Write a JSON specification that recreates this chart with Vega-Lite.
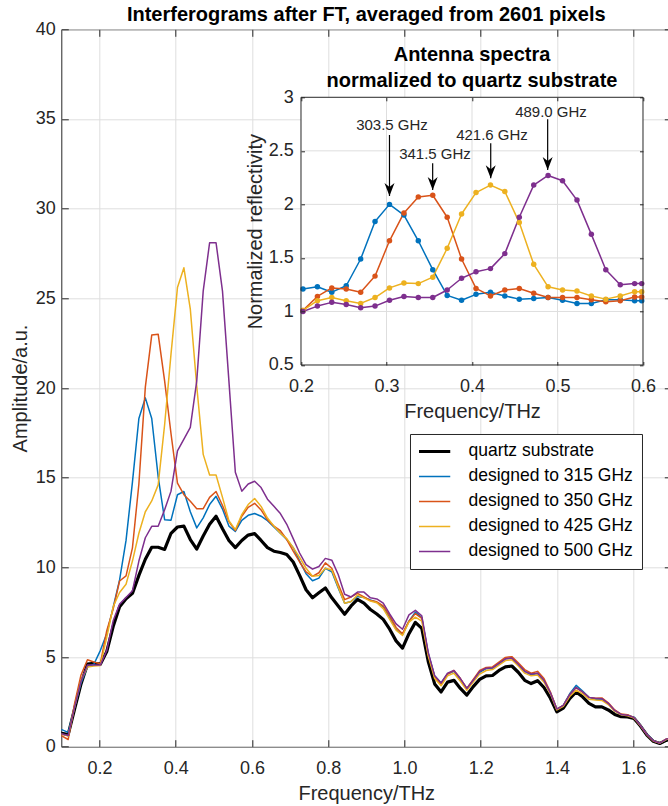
{
  "$schema": "https://vega.github.io/schema/vega-lite/v6.json",
  "autosize": {"type": "none"},
  "padding": {"left": 61.3, "top": 29.3, "right": 0, "bottom": 59.3},
  "width": 610,
  "height": 717.4,
  "background": "white",
  "config": {
    "font": "Liberation Sans",
    "view": {"stroke": "#262626", "strokeWidth": 1},
    "axis": {"labelFont": "Liberation Sans", "titleFont": "Liberation Sans", "labelFontSize": 18, "titleFontSize": 20, "titleFontWeight": "normal", "labelColor": "#262626", "titleColor": "#262626", "tickColor": "#262626", "tickWidth": 1, "gridColor": "#dedede", "gridWidth": 1, "domain": false, "labelFlush": false, "labelOverlap": false}
  },
  "datasets": {
    "main": [
      {"f":0.0842,"q":0.85,"b":1.0,"o":0.75,"y":0.8,"p":0.85},
      {"f":0.1011,"q":0.75,"b":0.95,"o":0.6,"y":0.7,"p":0.72},
      {"f":0.1180,"q":0.67,"b":0.8,"o":0.4,"y":0.6,"p":0.62},
      {"f":0.1348,"q":2.1,"b":2.2,"o":2.4,"y":2.2,"p":2.2},
      {"f":0.1517,"q":3.5,"b":3.55,"o":4.0,"y":3.7,"p":3.65},
      {"f":0.1686,"q":4.6,"b":4.45,"o":4.85,"y":4.45,"p":4.55},
      {"f":0.1854,"q":4.65,"b":4.6,"o":4.72,"y":4.5,"p":4.55},
      {"f":0.2023,"q":4.6,"b":5.36,"o":4.62,"y":4.53,"p":4.55},
      {"f":0.2192,"q":5.3,"b":6.29,"o":6.47,"y":6.1,"p":5.36},
      {"f":0.2360,"q":6.7,"b":7.77,"o":7.67,"y":7.8,"p":7.02},
      {"f":0.2529,"q":7.8,"b":9.3,"o":9.24,"y":8.6,"p":7.95},
      {"f":0.2698,"q":8.25,"b":11.5,"o":9.52,"y":9.06,"p":8.32},
      {"f":0.2866,"q":8.55,"b":14.75,"o":11.09,"y":10.35,"p":8.69},
      {"f":0.3035,"q":9.55,"b":18.3,"o":14.65,"y":11.9,"p":10.35},
      {"f":0.3204,"q":10.45,"b":19.45,"o":20.05,"y":13.1,"p":11.65},
      {"f":0.3372,"q":11.12,"b":18.3,"o":22.95,"y":13.7,"p":12.29},
      {"f":0.3541,"q":11.12,"b":15.05,"o":23.0,"y":14.6,"p":12.29},
      {"f":0.3710,"q":11.0,"b":12.66,"o":20.4,"y":17.95,"p":13.21},
      {"f":0.3878,"q":11.9,"b":12.63,"o":17.45,"y":21.9,"p":14.25},
      {"f":0.4047,"q":12.25,"b":14.05,"o":14.7,"y":25.6,"p":16.5},
      {"f":0.4216,"q":12.3,"b":14.23,"o":14.05,"y":26.7,"p":17.15},
      {"f":0.4384,"q":11.55,"b":13.1,"o":13.68,"y":24.4,"p":17.8},
      {"f":0.4553,"q":11.02,"b":12.2,"o":13.27,"y":20.1,"p":20.4},
      {"f":0.4722,"q":11.75,"b":12.76,"o":13.27,"y":16.3,"p":25.4},
      {"f":0.4890,"q":12.4,"b":13.5,"o":13.9,"y":15.15,"p":28.1},
      {"f":0.5059,"q":12.85,"b":13.96,"o":14.23,"y":15.15,"p":28.1},
      {"f":0.5228,"q":12.15,"b":13.25,"o":13.45,"y":13.9,"p":25.4},
      {"f":0.5396,"q":11.5,"b":12.3,"o":12.55,"y":12.6,"p":20.4},
      {"f":0.5565,"q":11.1,"b":12.0,"o":12.05,"y":12.1,"p":15.3},
      {"f":0.5734,"q":11.5,"b":12.62,"o":12.85,"y":12.94,"p":14.25},
      {"f":0.5902,"q":11.8,"b":12.9,"o":13.35,"y":13.5,"p":14.65},
      {"f":0.6071,"q":11.88,"b":13.0,"o":13.57,"y":13.84,"p":14.8},
      {"f":0.6240,"q":11.5,"b":12.85,"o":13.2,"y":13.4,"p":14.45},
      {"f":0.6408,"q":11.1,"b":12.6,"o":12.65,"y":12.75,"p":13.8},
      {"f":0.6577,"q":10.9,"b":12.25,"o":12.3,"y":12.3,"p":13.4},
      {"f":0.6746,"q":10.83,"b":11.9,"o":12.05,"y":11.9,"p":13.0},
      {"f":0.6914,"q":10.72,"b":11.55,"o":11.55,"y":11.6,"p":12.4},
      {"f":0.7083,"q":10.3,"b":11.1,"o":10.9,"y":11.1,"p":11.6},
      {"f":0.7251,"q":9.55,"b":10.35,"o":10.3,"y":10.55,"p":10.8},
      {"f":0.7420,"q":8.75,"b":9.65,"o":9.75,"y":9.95,"p":10.15},
      {"f":0.7589,"q":8.3,"b":9.25,"o":9.5,"y":9.5,"p":9.9},
      {"f":0.7757,"q":8.58,"b":9.4,"o":9.7,"y":9.55,"p":10.05},
      {"f":0.7926,"q":8.85,"b":9.95,"o":10.25,"y":9.95,"p":10.5},
      {"f":0.8095,"q":8.3,"b":9.75,"o":9.95,"y":9.85,"p":10.4},
      {"f":0.8263,"q":7.85,"b":8.85,"o":9.05,"y":8.9,"p":9.6},
      {"f":0.8432,"q":7.38,"b":8.0,"o":8.2,"y":8.0,"p":8.5},
      {"f":0.8601,"q":7.85,"b":8.1,"o":8.35,"y":8.1,"p":8.35},
      {"f":0.8769,"q":8.22,"b":8.38,"o":8.55,"y":8.45,"p":8.62},
      {"f":0.8938,"q":8.0,"b":8.32,"o":8.35,"y":8.3,"p":8.62},
      {"f":0.9107,"q":7.65,"b":8.18,"o":8.15,"y":8.12,"p":8.3},
      {"f":0.9275,"q":7.4,"b":8.05,"o":8.08,"y":8.03,"p":8.24},
      {"f":0.9444,"q":7.1,"b":7.8,"o":7.85,"y":7.7,"p":8.0},
      {"f":0.9613,"q":6.55,"b":7.2,"o":7.3,"y":7.1,"p":7.4},
      {"f":0.9781,"q":5.9,"b":6.55,"o":6.65,"y":6.5,"p":6.85},
      {"f":0.9950,"q":5.5,"b":6.25,"o":6.3,"y":6.2,"p":6.55},
      {"f":1.0119,"q":6.3,"b":7.0,"o":7.0,"y":6.95,"p":7.35},
      {"f":1.0287,"q":6.93,"b":7.5,"o":7.42,"y":7.22,"p":7.6},
      {"f":1.0456,"q":6.6,"b":7.2,"o":7.15,"y":7.0,"p":7.3},
      {"f":1.0625,"q":4.75,"b":5.2,"o":5.15,"y":5.05,"p":5.25},
      {"f":1.0793,"q":3.5,"b":3.95,"o":3.9,"y":3.8,"p":3.95},
      {"f":1.0962,"q":3.05,"b":3.55,"o":3.5,"y":3.4,"p":3.55},
      {"f":1.1131,"q":3.6,"b":4.05,"o":4.05,"y":3.95,"p":4.1},
      {"f":1.1299,"q":3.7,"b":4.2,"o":4.25,"y":4.1,"p":4.25},
      {"f":1.1468,"q":3.25,"b":3.75,"o":3.8,"y":3.65,"p":3.8},
      {"f":1.1637,"q":2.88,"b":3.25,"o":3.25,"y":3.15,"p":3.25},
      {"f":1.1805,"q":3.35,"b":3.7,"o":3.75,"y":3.6,"p":3.7},
      {"f":1.1974,"q":3.75,"b":4.15,"o":4.25,"y":4.05,"p":4.2},
      {"f":1.2143,"q":3.95,"b":4.35,"o":4.42,"y":4.25,"p":4.38},
      {"f":1.2311,"q":3.97,"b":4.38,"o":4.45,"y":4.3,"p":4.4},
      {"f":1.2480,"q":4.25,"b":4.65,"o":4.72,"y":4.55,"p":4.65},
      {"f":1.2649,"q":4.45,"b":4.9,"o":4.98,"y":4.8,"p":4.9},
      {"f":1.2817,"q":4.5,"b":4.95,"o":5.02,"y":4.85,"p":4.95},
      {"f":1.2986,"q":4.15,"b":4.6,"o":4.68,"y":4.5,"p":4.6},
      {"f":1.3155,"q":3.7,"b":4.2,"o":4.3,"y":4.1,"p":4.2},
      {"f":1.3323,"q":3.52,"b":4.0,"o":4.1,"y":3.95,"p":4.05},
      {"f":1.3492,"q":3.68,"b":4.1,"o":4.2,"y":4.0,"p":4.1},
      {"f":1.3661,"q":3.3,"b":3.7,"o":3.8,"y":3.6,"p":3.7},
      {"f":1.3829,"q":2.7,"b":3.0,"o":3.05,"y":2.95,"p":3.0},
      {"f":1.3998,"q":1.94,"b":2.1,"o":2.1,"y":2.05,"p":2.1},
      {"f":1.4167,"q":2.15,"b":2.3,"o":2.3,"y":2.25,"p":2.3},
      {"f":1.4335,"q":2.68,"b":2.95,"o":2.9,"y":2.8,"p":2.9},
      {"f":1.4504,"q":3.05,"b":3.42,"o":3.3,"y":3.15,"p":3.3},
      {"f":1.4673,"q":2.78,"b":3.1,"o":3.05,"y":2.95,"p":3.05},
      {"f":1.4841,"q":2.42,"b":2.75,"o":2.75,"y":2.65,"p":2.75},
      {"f":1.5010,"q":2.22,"b":2.65,"o":2.7,"y":2.6,"p":2.7},
      {"f":1.5179,"q":2.22,"b":2.62,"o":2.72,"y":2.58,"p":2.68},
      {"f":1.5347,"q":2.05,"b":2.4,"o":2.45,"y":2.35,"p":2.42},
      {"f":1.5516,"q":1.8,"b":2.0,"o":2.05,"y":1.98,"p":2.02},
      {"f":1.5685,"q":1.67,"b":1.8,"o":1.82,"y":1.78,"p":1.8},
      {"f":1.5853,"q":1.66,"b":1.75,"o":1.78,"y":1.72,"p":1.76},
      {"f":1.6022,"q":1.58,"b":1.65,"o":1.62,"y":1.6,"p":1.62},
      {"f":1.6191,"q":1.15,"b":1.2,"o":1.18,"y":1.16,"p":1.18},
      {"f":1.6359,"q":0.65,"b":0.7,"o":0.68,"y":0.67,"p":0.68},
      {"f":1.6528,"q":0.3,"b":0.35,"o":0.33,"y":0.32,"p":0.33},
      {"f":1.6697,"q":0.18,"b":0.2,"o":0.2,"y":0.2,"p":0.2},
      {"f":1.6865,"q":0.35,"b":0.4,"o":0.42,"y":0.4,"p":0.42},
      {"f":1.7034,"q":0.5,"b":0.55,"o":0.55,"y":0.55,"p":0.55}
    ],
    "inset": [
      {"f":0.2023,"b":1.21,"o":1.01,"y":1.01,"p":1.0},
      {"f":0.2192,"b":1.23,"o":1.14,"y":1.10,"p":1.05},
      {"f":0.2360,"b":1.18,"o":1.22,"y":1.13,"p":1.085},
      {"f":0.2529,"b":1.24,"o":1.21,"y":1.10,"p":1.065},
      {"f":0.2698,"b":1.49,"o":1.18,"y":1.075,"p":1.035},
      {"f":0.2866,"b":1.84,"o":1.33,"y":1.13,"p":1.05},
      {"f":0.3035,"b":2.00,"o":1.66,"y":1.22,"p":1.105},
      {"f":0.3204,"b":1.90,"o":1.92,"y":1.265,"p":1.14},
      {"f":0.3372,"b":1.66,"o":2.07,"y":1.26,"p":1.13},
      {"f":0.3541,"b":1.39,"o":2.085,"y":1.32,"p":1.13},
      {"f":0.3710,"b":1.15,"o":1.88,"y":1.59,"p":1.20},
      {"f":0.3878,"b":1.105,"o":1.49,"y":1.91,"p":1.31},
      {"f":0.4047,"b":1.16,"o":1.215,"y":2.11,"p":1.37},
      {"f":0.4216,"b":1.18,"o":1.145,"y":2.18,"p":1.40},
      {"f":0.4384,"b":1.145,"o":1.20,"y":2.12,"p":1.54},
      {"f":0.4553,"b":1.115,"o":1.215,"y":1.83,"p":1.88},
      {"f":0.4722,"b":1.12,"o":1.17,"y":1.44,"p":2.18},
      {"f":0.4890,"b":1.13,"o":1.13,"y":1.23,"p":2.27},
      {"f":0.5059,"b":1.105,"o":1.13,"y":1.20,"p":2.22},
      {"f":0.5228,"b":1.075,"o":1.13,"y":1.19,"p":2.04},
      {"f":0.5396,"b":1.075,"o":1.11,"y":1.145,"p":1.72},
      {"f":0.5565,"b":1.11,"o":1.09,"y":1.115,"p":1.39},
      {"f":0.5734,"b":1.11,"o":1.10,"y":1.145,"p":1.25},
      {"f":0.5902,"b":1.10,"o":1.135,"y":1.185,"p":1.26},
      {"f":0.5985,"b":1.10,"o":1.135,"y":1.185,"p":1.26}
    ],
    "ann": [
      {"ax":0.3035,"yt":2.648,"yh":2.078,"tx":0.3064,"ty":2.741,"lab":"303.5 GHz"},
      {"ax":0.354,"yt":2.384,"yh":2.134,"tx":0.3567,"ty":2.469,"lab":"341.5 GHz"},
      {"ax":0.4219,"yt":2.570,"yh":2.244,"tx":0.4234,"ty":2.648,"lab":"421.6 GHz"},
      {"ax":0.4885,"yt":2.795,"yh":2.321,"tx":0.4924,"ty":2.866,"lab":"489.0 GHz"}
    ],
    "ititle": [
      {"x":0.4,"y":3.342,"t":"Antenna spectra"},
      {"x":0.4,"y":3.093,"t":"normalized to quartz substrate"}
    ],
    "mtitle": [{"x":0.9,"y":40.48,"t":"Interferograms after FT, averaged from 2601 pixels"}],
    "ibox": [{"x1":0.2,"x2":0.6,"y1":0.5,"y2":3}],
    "igv": [{"g":0.3},{"g":0.4},{"g":0.5}],
    "igh": [{"h":1},{"h":1.5},{"h":2},{"h":2.5}]
  },
  "layer": [
    {
      "data": {"name": "main"},
      "transform": [{"fold": ["q","b","o","y","p"], "as": ["s","v"]}],
      "layer": [
        {
          "transform": [{"filter": "datum.s == 'q'"}],
          "mark": {"type": "line", "clip": true, "strokeWidth": 3.2, "strokeJoin": "round"},
          "encoding": {
            "x": {"field": "f", "type": "quantitative", "scale": {"domain": [0.1,1.7], "nice": false, "zero": false},
                  "axis": {"orient": "bottom", "values": [0.2,0.4,0.6,0.8,1.0,1.2,1.4,1.6], "format": ".1f", "title": "Frequency/THz", "grid": true, "tickSize": -7, "labelPadding": 33.6, "labelBaseline": "alphabetic", "titleX": 305, "titleY": 52.6, "titleBaseline": "alphabetic", "titleAlign": "center", "titleAnchor": "middle"}},
            "y": {"field": "v", "type": "quantitative", "scale": {"domain": [0,40], "nice": false, "zero": false},
                  "axis": {"orient": "left", "values": [0,5,10,15,20,25,30,35,40], "title": "Amplitude/a.u.", "grid": true, "tickSize": -7, "labelPadding": 13, "labelBaseline": "middle", "titleX": -34.3, "titleY": 358.7, "titleAngle": -90, "titleBaseline": "alphabetic", "titleAlign": "center", "titleAnchor": "middle"}},
            "color": {"field": "s", "type": "nominal",
                      "scale": {"domain": ["q","b","o","y","p"], "range": ["#000000","#0072BD","#D95319","#EDB120","#7E2F8E"]},
                      "legend": {"orient": "none", "legendX": 348.7, "legendY": 404.7, "title": null, "symbolType": "stroke", "symbolSize": 2025, "symbolStrokeWidth": 1.5, "labelFontSize": 17.5, "labelFont": "Liberation Sans", "labelColor": "#000000", "padding": 9, "rowPadding": 7, "clipHeight": 17, "strokeColor": "#262626", "fillColor": "#ffffff", "labelOffset": 32, "labelLimit": 400,
                                 "labelExpr": "datum.value == 'q' ? 'quartz substrate' : datum.value == 'b' ? 'designed to 315 GHz' : datum.value == 'o' ? 'designed to 350 GHz' : datum.value == 'y' ? 'designed to 425 GHz' : 'designed to 500 GHz'",
                                 "encode": {"symbols": {"update": {"strokeWidth": {"signal": "datum.value == 'q' ? 3.2 : 1.5"}}}}}}
          }
        },
        {
          "transform": [{"filter": "datum.s != 'q'"}],
          "mark": {"type": "line", "clip": true, "strokeWidth": 1.5, "strokeJoin": "round"},
          "encoding": {
            "x": {"field": "f", "type": "quantitative", "scale": {"domain": [0.1,1.7], "nice": false, "zero": false},
                  "axis": {"orient": "top", "values": [0.2,0.4,0.6,0.8,1.0,1.2,1.4,1.6], "labels": false, "title": null, "grid": false, "tickSize": -7}},
            "y": {"field": "v", "type": "quantitative", "scale": {"domain": [0,40], "nice": false, "zero": false},
                  "axis": {"orient": "right", "values": [0,5,10,15,20,25,30,35,40], "labels": false, "title": null, "grid": false, "tickSize": -7}},
            "color": {"field": "s", "type": "nominal",
                      "scale": {"domain": ["q","b","o","y","p"], "range": ["#000000","#0072BD","#D95319","#EDB120","#7E2F8E"]},
                      "legend": null}
          }
        },
        {
          "data": {"name": "mtitle"},
          "mark": {"type": "text", "fontSize": 20, "fontWeight": "bold", "font": "Liberation Sans", "color": "#000000", "align": "center", "baseline": "alphabetic"},
          "encoding": {
            "x": {"field": "x", "type": "quantitative", "scale": {"domain": [0.1,1.7], "nice": false, "zero": false}, "axis": null},
            "y": {"field": "y", "type": "quantitative", "scale": {"domain": [0,40], "nice": false, "zero": false}, "axis": null},
            "text": {"field": "t"}
          }
        }
      ],
      "resolve": {"axis": {"x": "independent", "y": "independent"}}
    },
    {
      "layer": [
        {
          "data": {"name": "ibox"},
          "mark": {"type": "rect", "color": "#ffffff"},
          "encoding": {
            "x": {"field": "x1", "type": "quantitative", "scale": {"domain": [-0.08035,0.6331], "nice": false, "zero": false}, "axis": null},
            "x2": {"field": "x2"},
            "y": {"field": "y1", "type": "quantitative", "scale": {"domain": [-3.0647,3.635], "nice": false, "zero": false}, "axis": null},
            "y2": {"field": "y2"}
          }
        },
        {
          "data": {"name": "igv"},
          "mark": {"type": "rule", "color": "#dedede", "strokeWidth": 1},
          "encoding": {
            "x": {"field": "g", "type": "quantitative", "scale": {"domain": [-0.08035,0.6331], "nice": false, "zero": false}, "axis": null},
            "y": {"datum": 0.5, "type": "quantitative", "scale": {"domain": [-3.0647,3.635], "nice": false, "zero": false}, "axis": null},
            "y2": {"datum": 3}
          }
        },
        {
          "data": {"name": "igh"},
          "mark": {"type": "rule", "color": "#dedede", "strokeWidth": 1},
          "encoding": {
            "y": {"field": "h", "type": "quantitative", "scale": {"domain": [-3.0647,3.635], "nice": false, "zero": false}, "axis": null},
            "x": {"datum": 0.2, "type": "quantitative", "scale": {"domain": [-0.08035,0.6331], "nice": false, "zero": false}, "axis": null},
            "x2": {"datum": 0.6}
          }
        },
        {
          "data": {"name": "inset"},
          "transform": [{"fold": ["b","o","y","p"], "as": ["s","v"]}],
          "mark": {"type": "line", "strokeWidth": 1.5, "strokeJoin": "round", "point": {"filled": true, "size": 30}},
          "encoding": {
            "x": {"field": "f", "type": "quantitative", "scale": {"domain": [-0.08035,0.6331], "nice": false, "zero": false},
                  "axis": {"orient": "bottom", "offset": -381.7, "values": [0.2,0.3,0.4,0.5,0.6], "format": ".1f", "title": "Frequency/THz", "grid": false, "tickSize": -3.5, "labelPadding": 30.1, "labelBaseline": "alphabetic", "titleX": 410.7, "titleY": 52.6, "titleBaseline": "alphabetic", "titleAlign": "center", "titleAnchor": "middle", "zindex": 1}},
            "y": {"field": "v", "type": "quantitative", "scale": {"domain": [-3.0647,3.635], "nice": false, "zero": false},
                  "axis": {"orient": "left", "offset": -239.7, "values": [0.5,1,1.5,2,2.5,3], "labelExpr": "'' + datum.value", "title": "Normalized reflectivity", "grid": false, "tickSize": -3.5, "labelPadding": 11.2, "labelBaseline": "middle", "titleX": -39.3, "titleY": 201.85, "titleAngle": -90, "titleBaseline": "alphabetic", "titleAlign": "center", "titleAnchor": "middle", "zindex": 1}},
            "color": {"field": "s", "type": "nominal",
                      "scale": {"domain": ["q","b","o","y","p"], "range": ["#000000","#0072BD","#D95319","#EDB120","#7E2F8E"]},
                      "legend": null}
          }
        },
        {
          "data": {"name": "ibox"},
          "mark": {"type": "rect", "filled": false, "color": "#262626", "strokeWidth": 1},
          "encoding": {
            "x": {"field": "x1", "type": "quantitative", "scale": {"domain": [-0.08035,0.6331], "nice": false, "zero": false},
                  "axis": {"orient": "top", "offset": -68.0, "values": [0.2,0.3,0.4,0.5,0.6], "labels": false, "title": null, "grid": false, "tickSize": -3.5, "zindex": 1}},
            "x2": {"field": "x2"},
            "y": {"field": "y1", "type": "quantitative", "scale": {"domain": [-3.0647,3.635], "nice": false, "zero": false},
                  "axis": {"orient": "right", "offset": -28.3, "values": [0.5,1,1.5,2,2.5,3], "labels": false, "title": null, "grid": false, "tickSize": -3.5, "zindex": 1}},
            "y2": {"field": "y2"}
          }
        },
        {
          "data": {"name": "ann"},
          "mark": {"type": "rule", "color": "#000000", "strokeWidth": 1.2},
          "encoding": {
            "x": {"field": "ax", "type": "quantitative", "scale": {"domain": [-0.08035,0.6331], "nice": false, "zero": false}, "axis": null},
            "y": {"field": "yt", "type": "quantitative", "scale": {"domain": [-3.0647,3.635], "nice": false, "zero": false}, "axis": null},
            "y2": {"field": "yh"}
          }
        },
        {
          "data": {"name": "ann"},
          "mark": {"type": "point", "shape": "M0,0L-5,-13L0,-9L5,-13Z", "size": 4, "filled": true, "color": "#000000", "opacity": 1, "strokeWidth": 0},
          "encoding": {
            "x": {"field": "ax", "type": "quantitative", "scale": {"domain": [-0.08035,0.6331], "nice": false, "zero": false}, "axis": null},
            "y": {"field": "yh", "type": "quantitative", "scale": {"domain": [-3.0647,3.635], "nice": false, "zero": false}, "axis": null}
          }
        },
        {
          "data": {"name": "ann"},
          "mark": {"type": "text", "fontSize": 15, "font": "Liberation Sans", "color": "#262626", "align": "center", "baseline": "middle"},
          "encoding": {
            "x": {"field": "tx", "type": "quantitative", "scale": {"domain": [-0.08035,0.6331], "nice": false, "zero": false}, "axis": null},
            "y": {"field": "ty", "type": "quantitative", "scale": {"domain": [-3.0647,3.635], "nice": false, "zero": false}, "axis": null},
            "text": {"field": "lab"}
          }
        },
        {
          "data": {"name": "ititle"},
          "mark": {"type": "text", "fontSize": 20, "fontWeight": "bold", "font": "Liberation Sans", "color": "#000000", "align": "center", "baseline": "alphabetic"},
          "encoding": {
            "x": {"field": "x", "type": "quantitative", "scale": {"domain": [-0.08035,0.6331], "nice": false, "zero": false}, "axis": null},
            "y": {"field": "y", "type": "quantitative", "scale": {"domain": [-3.0647,3.635], "nice": false, "zero": false}, "axis": null},
            "text": {"field": "t"}
          }
        }
      ],
      "resolve": {"axis": {"x": "independent", "y": "independent"}}
    }
  ],
  "resolve": {"scale": {"x": "independent", "y": "independent"}}
}
